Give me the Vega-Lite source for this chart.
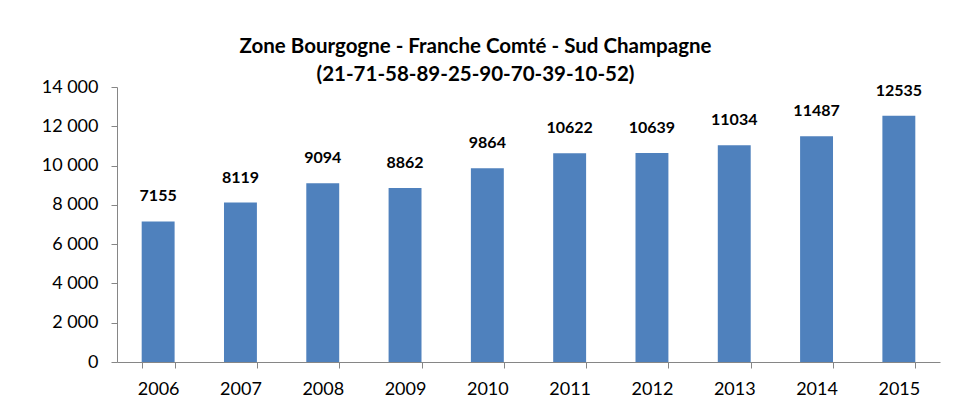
{
  "$schema": "https://vega.github.io/schema/vega-lite/v6.json",
  "autosize": "none",
  "width": 823,
  "height": 275,
  "padding": {"left": 117, "top": 87, "right": 22, "bottom": 46},
  "background": "white",
  "title": {
    "text": ["Zone Bourgogne - Franche Comté - Sud Champagne", "(21-71-58-89-25-90-70-39-10-52)"],
    "font": "Lato",
    "fontSize": 20.5,
    "fontWeight": "bold",
    "color": "#000000",
    "anchor": "middle",
    "frame": "group",
    "dx": -53,
    "dy": 17,
    "offset": 10,
    "lineHeight": 28
  },
  "data": {
    "values": [
      {"year": "2006", "value": 7155},
      {"year": "2007", "value": 8119},
      {"year": "2008", "value": 9094},
      {"year": "2009", "value": 8862},
      {"year": "2010", "value": 9864},
      {"year": "2011", "value": 10622},
      {"year": "2012", "value": 10639},
      {"year": "2013", "value": 11034},
      {"year": "2014", "value": 11487},
      {"year": "2015", "value": 12535}
    ]
  },
  "encoding": {
    "x": {
      "field": "year",
      "type": "ordinal",
      "scale": {"paddingInner": 0.6, "paddingOuter": 0.3},
      "axis": {
        "title": null,
        "labelAngle": 0,
        "labelFont": "Lato",
        "labelFontSize": 18,
        "labelColor": "#000000",
        "labelPadding": 12,
        "tickBand": "extent",
        "tickSize": 6,
        "tickColor": "#868686",
        "domainColor": "#868686",
        "grid": false
      }
    },
    "y": {
      "field": "value",
      "type": "quantitative",
      "scale": {"domain": [0, 14000], "nice": false},
      "axis": {
        "title": null,
        "values": [0, 2000, 4000, 6000, 8000, 10000, 12000, 14000],
        "labelExpr": "replace(format(datum.value, ','), ',', ' ')",
        "labelFont": "Lato",
        "labelFontSize": 18,
        "labelColor": "#000000",
        "labelPadding": 13,
        "tickSize": 6,
        "tickColor": "#868686",
        "domainColor": "#868686",
        "grid": false
      }
    }
  },
  "layer": [
    {"mark": {"type": "bar", "color": "#4F81BD"}},
    {
      "mark": {"type": "text", "baseline": "bottom", "dy": -17, "font": "Lato", "fontSize": 16, "fontWeight": "bold", "color": "#000000"},
      "encoding": {"text": {"field": "value", "type": "quantitative", "format": "d"}}
    }
  ],
  "config": {"view": {"stroke": null}}
}
